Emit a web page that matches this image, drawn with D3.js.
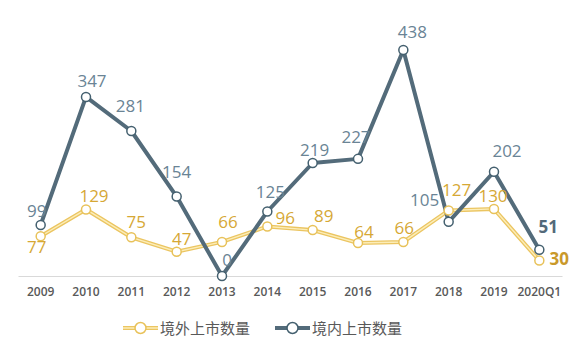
<!DOCTYPE html>
<html>
<head>
<meta charset="utf-8">
<script src="https://cdn.jsdelivr.net/npm/d3@7"></script>
<style>
  body { margin: 0; background: #fff; }
  svg { display: block; }
</style>
</head>
<body>
<svg id="chart" width="580" height="351"></svg>
<script>
const years = ["2009", "2010", "2011", "2012", "2013", "2014", "2015", "2016", "2017", "2018", "2019", "2020Q1"];
const overseas = [77, 129, 75, 47, 66, 96, 89, 64, 66, 127, 130, 30];
const domestic = [99, 347, 281, 154, 0, 125, 219, 227, 438, 105, 202, 51];
const legendNames = ["境外上市数量", "境内上市数量"];

// label nudges (dx, dy from the point) so labels sit like the original
const overseasNudge = [[-4, 17], [8, -7], [5, -9], [5, -7], [6, -14], [18, -2], [11, -8], [6, -5], [1, -8], [8, -14], [-1, -7], [20, 4]];
const domesticNudge = [[-4, -8], [6, -10], [-1, -19], [0, -19], [5, -10], [3, -14], [2, -7], [-2, -16], [9, -12], [-24, -16], [13, -15], [9, -17]];

const svg = d3.select('#chart');
const numFont = '"Open Sans", "Noto Sans", sans-serif';
const cjkFont = '"Noto Sans CJK SC", "Noto Sans", sans-serif';

const x = d3.scaleBand()
  .domain(years)
  .range([18, 562]);
const cx = d => x(d) + x.bandwidth() / 2;

const y = d3.scaleLinear()
  .domain([0, 500])
  .range([276, 18]);

// x axis
const xAxis = svg.append('g')
  .attr('transform', 'translate(0,276)')
  .call(d3.axisBottom(x).tickSize(0).tickPadding(11));
xAxis.select('.domain').attr('stroke', '#d9d9d9').attr('stroke-width', 1);
xAxis.selectAll('text')
  .attr('font-family', numFont)
  .attr('font-size', 12)
  .attr('font-weight', 600)
  .attr('fill', '#595959');

const line = d3.line()
  .x((d, i) => cx(years[i]))
  .y(d => y(d));

// overseas series: gold double stroke
svg.append('path')
  .attr('d', line(overseas))
  .attr('fill', 'none')
  .attr('stroke', '#ebc561')
  .attr('stroke-width', 4);
svg.append('path')
  .attr('d', line(overseas))
  .attr('fill', 'none')
  .attr('stroke', '#fcedb8')
  .attr('stroke-width', 1.4);

// domestic series
svg.append('path')
  .attr('d', line(domestic))
  .attr('fill', 'none')
  .attr('stroke', '#536b7a')
  .attr('stroke-width', 4)
  .attr('stroke-linejoin', 'round');

function points(data, color) {
  svg.append('g').selectAll('circle')
    .data(data)
    .join('circle')
    .attr('cx', (d, i) => cx(years[i]))
    .attr('cy', d => y(d))
    .attr('r', 4.5)
    .attr('fill', '#fff')
    .attr('stroke', color)
    .attr('stroke-width', 1.5);
}
points(overseas, '#e8c25a');
points(domestic, '#44606f');

function labels(data, nudge, color, lastColor) {
  svg.append('g').selectAll('text')
    .data(data)
    .join('text')
    .attr('x', (d, i) => cx(years[i]) + nudge[i][0])
    .attr('y', (d, i) => y(d) + nudge[i][1])
    .attr('text-anchor', 'middle')
    .attr('font-family', numFont)
    .attr('font-size', 17)
    .attr('font-weight', (d, i) => i === data.length - 1 ? 700 : 400)
    .attr('fill', (d, i) => i === data.length - 1 ? lastColor : color)
    .text(d => d);
}
labels(overseas, overseasNudge, '#d6a835', '#c9992a');
labels(domestic, domesticNudge, '#6a8495', '#53697a');

// legend
const legend = svg.append('g');
const items = [
  { name: legendNames[0], x0: 123, color: '#ebc561', inner: '#fcedb8', dot: '#e8c25a' },
  { name: legendNames[1], x0: 275, color: '#536b7a', inner: null, dot: '#44606f' }
];
items.forEach(it => {
  const g = legend.append('g').attr('transform', `translate(${it.x0},328)`);
  g.append('line').attr('x1', 0).attr('x2', 35).attr('stroke', it.color).attr('stroke-width', 4);
  if (it.inner) g.append('line').attr('x1', 0).attr('x2', 35).attr('stroke', it.inner).attr('stroke-width', 1.4);
  g.append('circle').attr('cx', 17.5).attr('r', 5.5).attr('fill', '#fff').attr('stroke', it.dot).attr('stroke-width', 1.5);
  g.append('text')
    .attr('x', 37)
    .attr('y', 5.5)
    .attr('font-family', cjkFont)
    .attr('font-size', 15)
    .attr('fill', '#595959')
    .text(it.name);
});
</script>
</body>
</html>
